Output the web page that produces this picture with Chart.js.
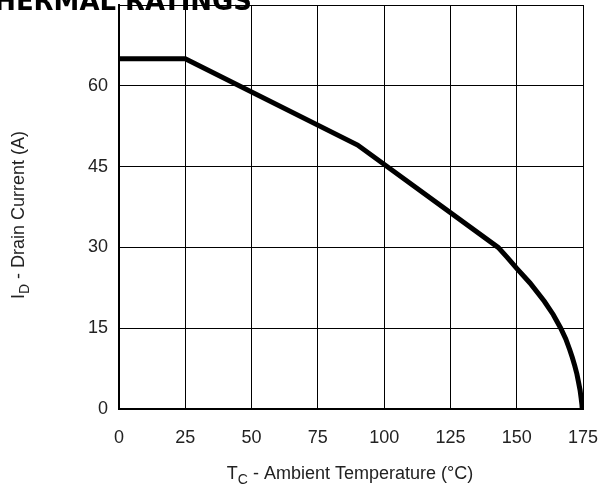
<!DOCTYPE html>
<html>
<head>
<meta charset="utf-8">
<script src="https://cdn.jsdelivr.net/npm/chart.js@4"></script>
<style>
  html, body { margin: 0; padding: 0; background: #fff; }
  canvas { display: block; }
</style>
</head>
<body>
<canvas id="deratingChart" width="598" height="492"></canvas>
<script>
// case temperature (°C) vs max drain current (A)
const caseTemps = [0, 25, 90, 143, 146.5, 150, 155, 160.4, 163.8, 166.6, 168.5, 170, 171, 171.9, 172.7, 173.3, 173.9, 174.3, 174.6, 174.7];
const drainCurrent = [65, 65, 49, 30, 28.1, 26.1, 23.4, 20, 17.5, 15, 13, 11, 9.5, 8, 6.5, 5, 3.5, 2, 0.8, 0];
const xTicks = [0, 25, 50, 75, 100, 125, 150, 175];
const yTicks = [0, 15, 30, 45, 60, 75];

const FONT = '"Liberation Sans", Arial, sans-serif';

// draws the titles (with subscripts) and the clipped heading on top
const labelsPlugin = {
  id: 'labels',
  afterDraw(chart) {
    const ctx = chart.ctx;
    ctx.save();
    ctx.fillStyle = '#222';
    ctx.textBaseline = 'alphabetic';

    // x axis title: T_C - Ambient Temperature (°C)
    const big = '18px ' + FONT, small = '14px ' + FONT;
    ctx.font = big;
    const wT = ctx.measureText('T').width;
    const wRest = ctx.measureText(' - Ambient Temperature (°C)').width;
    ctx.font = small;
    const wC = ctx.measureText('C').width;
    let x = 350 - (wT + wC + wRest) / 2;
    const by = 479;
    ctx.font = big; ctx.fillText('T', x, by); x += wT;
    ctx.font = small; ctx.fillText('C', x, by + 5); x += wC;
    ctx.font = big; ctx.fillText(' - Ambient Temperature (°C)', x, by);

    // y axis title: I_D - Drain Current (A)
    ctx.save();
    ctx.translate(24, 215);
    ctx.rotate(-Math.PI / 2);
    ctx.font = big;
    const wI = ctx.measureText('I').width;
    const wRest2 = ctx.measureText(' - Drain Current (A)').width;
    ctx.font = small;
    const wD = ctx.measureText('D').width;
    let t = -(wI + wD + wRest2) / 2;
    ctx.font = big; ctx.fillText('I', t, 0); t += wI;
    ctx.font = small; ctx.fillText('D', t, 5); t += wD;
    ctx.font = big; ctx.fillText(' - Drain Current (A)', t, 0);
    ctx.restore();

    // heading, cut off by the top and left edges
    ctx.fillStyle = '#000';
    ctx.font = 'bold 27px "DejaVu Sans", sans-serif';
    const wHead = ctx.measureText('THERMAL ').width;
    const wTail = ctx.measureText('RATINGS').width;
    const s = 127 / wTail;
    ctx.translate(125 - wHead * s, 10);
    ctx.scale(s, 1);
    ctx.fillText('THERMAL RATINGS', 0, 0);
    ctx.restore();
  }
};

new Chart(document.getElementById('deratingChart').getContext('2d'), {
  type: 'line',
  data: {
    datasets: [{
      data: caseTemps.map((t, i) => ({ x: t, y: drainCurrent[i] })),
      borderColor: '#000',
      borderWidth: 5,
      pointRadius: 0,
      tension: 0,
      fill: false
    }]
  },
  options: {
    responsive: false,
    animation: false,
    layout: { padding: { left: 0, right: 15, top: 5, bottom: 0 } },
    plugins: { legend: { display: false }, tooltip: { enabled: false } },
    scales: {
      x: {
        type: 'linear',
        min: 0, max: 175,
        afterBuildTicks: (scale) => { scale.ticks = xTicks.map(v => ({ value: v })); },
        afterFit: (scale) => {
          scale.height = 83;
          scale.paddingLeft = 0; scale.paddingRight = 0;
        },
        grid: { color: '#000', lineWidth: 1, drawTicks: false },
        border: { color: '#000', width: 2 },
        ticks: { color: '#222', font: { family: FONT, size: 18 }, padding: 18, maxRotation: 0 }
      },
      y: {
        min: 0, max: 75,
        afterBuildTicks: (scale) => { scale.ticks = yTicks.map(v => ({ value: v })); },
        afterFit: (scale) => {
          scale.width = 119;
          scale.paddingTop = 0; scale.paddingBottom = 0;
        },
        grid: { color: '#000', lineWidth: 1, drawTicks: false },
        border: { color: '#000', width: 2 },
        ticks: {
          color: '#222', font: { family: FONT, size: 18 }, padding: 11,
          callback: (v) => (v === 75 ? '' : v)
        }
      }
    }
  },
  plugins: [labelsPlugin]
});
</script>
</body>
</html>
